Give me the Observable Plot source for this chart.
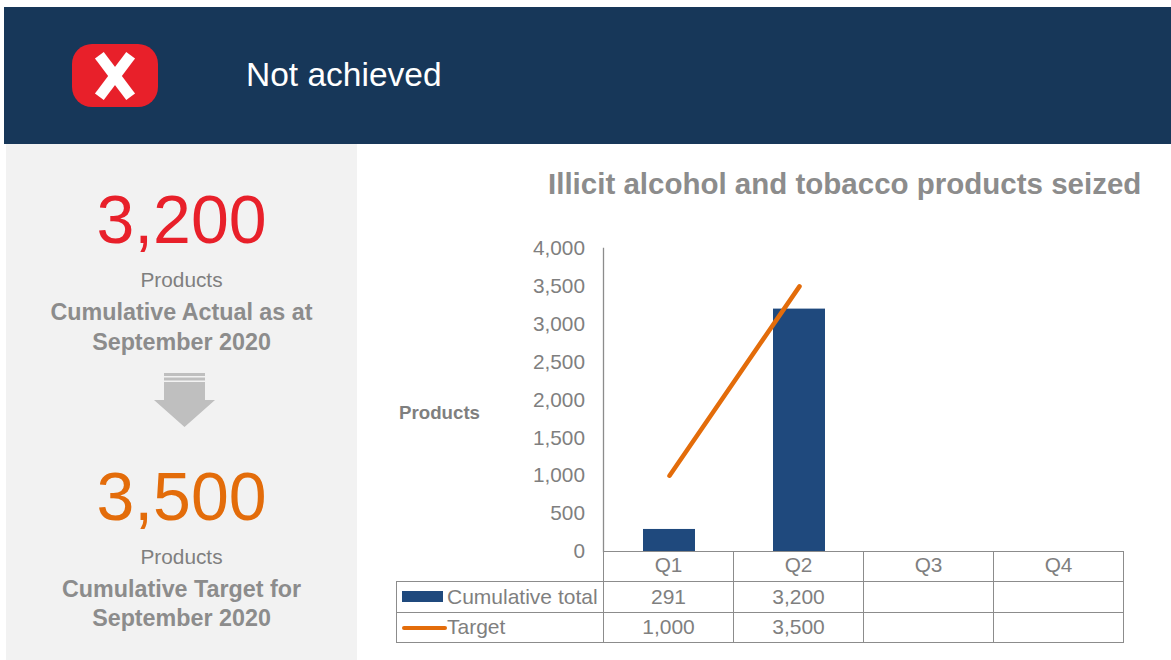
<!DOCTYPE html>
<html><head><meta charset="utf-8">
<script src="https://cdn.jsdelivr.net/npm/d3@7"></script>
<script src="https://cdn.jsdelivr.net/npm/@observablehq/plot@0.6"></script>
<style>
html,body{margin:0;padding:0;background:#fff;overflow:hidden}
body{width:1171px;height:660px;position:relative;font-family:"Liberation Sans",Arial,sans-serif}
.abs{position:absolute}
.c{text-align:center;width:351px;left:6px}
#tbl{position:absolute;left:396px;top:551px;border-collapse:collapse;table-layout:fixed;width:727px;color:#7f7f7f;font-size:21px}
#tbl td{border:1px solid #8c8c8c;padding:0;text-align:center;height:30px;box-sizing:border-box;white-space:nowrap}
#tbl tr:nth-child(2) td{height:31px}
#tbl tr:nth-child(3) td{padding-bottom:2px}
#tbl tr:first-child td:first-child{border:0 none;border-bottom:1px solid #8c8c8c}
#tbl td.lab{text-align:left;position:relative;padding-left:50px}
.key{position:absolute;left:5px}
</style></head><body>
<div class="abs" style="left:4px;top:7px;width:1167px;height:137px;background:#173759"></div>
<svg class="abs" style="left:72px;top:44px" width="86" height="63" viewBox="0 0 86 63">
<rect width="86" height="63" rx="20" fill="#e8202a"/>
<g transform="translate(43 32)" fill="#fff"><rect x="-5.500" y="-26" width="11" height="52" transform="rotate(-37)"/><rect x="-5.500" y="-26" width="11" height="52" transform="rotate(37)"/></g>
</svg>
<div class="abs" id="status" style="left:246px;top:55px;color:#fff;font-size:33.500px;line-height:40px"></div>
<div class="abs" style="left:6px;top:144px;width:351px;height:516px;background:#f2f2f2"></div>
<div class="abs c" id="actual" style="top:181px;font-size:68px;line-height:76px;color:#e8202a"></div>
<div class="abs c" id="unit1" style="top:268px;font-size:20.800px;line-height:24px;color:#7f7f7f"></div>
<div class="abs c" id="cap1" style="top:298px;font-size:23.300px;line-height:29.500px;font-weight:bold;color:#8c8c8c"></div>
<svg class="abs" style="left:154px;top:373px" width="61" height="54" viewBox="0 0 61 54">
<path d="M10 0H51V3H10ZM10 4.500H51V7.500H10ZM10 9H51V27H61L30.500 54L0 27H10Z" fill="#bfbfbf"/>
</svg>
<div class="abs c" id="target" style="top:458px;font-size:68px;line-height:76px;color:#e36c0a"></div>
<div class="abs c" id="unit2" style="top:545px;font-size:20.800px;line-height:24px;color:#7f7f7f"></div>
<div class="abs c" id="cap2" style="top:574.500px;font-size:23.300px;line-height:29.500px;font-weight:bold;color:#8c8c8c"></div>
<div class="abs" id="title" style="left:548px;top:166px;font-size:29.500px;line-height:36px;font-weight:bold;color:#8c8c8c;white-space:nowrap"></div>
<div class="abs" id="ylabel" style="left:399px;top:402px;font-size:18.700px;line-height:22px;font-weight:bold;color:#7f7f7f"></div>
<table id="tbl"><colgroup><col style="width:207px"><col style="width:130px"><col style="width:130px"><col style="width:130px"><col style="width:130px"></colgroup><tbody></tbody></table>
<div id="chart" class="abs" style="left:0;top:0"></div>
<script>
const statusText = "Not achieved";
const chartTitle = "Illicit alcohol and tobacco products seized";
const yLabel = "Products";
const unit = "Products";
const actualValue = 3200;
const targetValue = 3500;
const actualCaption = ["Cumulative Actual as at", "September 2020"];
const targetCaption = ["Cumulative Target for", "September 2020"];
const quarters = ["Q1", "Q2", "Q3", "Q4"];
const cumulativeTotal = [291, 3200, null, null];
const target = [1000, 3500, null, null];
const seriesNames = ["Cumulative total", "Target"];
const yTicks = [0, 500, 1000, 1500, 2000, 2500, 3000, 3500, 4000];

const fmt = d3.format(",");
const set = (id, v) => document.getElementById(id).textContent = v;
set("status", statusText); set("title", chartTitle); set("ylabel", yLabel);
set("actual", fmt(actualValue)); set("target", fmt(targetValue));
set("unit1", unit); set("unit2", unit);
document.getElementById("cap1").innerHTML = actualCaption.join("<br>");
document.getElementById("cap2").innerHTML = targetCaption.join("<br>");

const barData = quarters.map((q, i) => ({q, v: cumulativeTotal[i]})).filter(d => d.v != null);
const lineData = quarters.map((q, i) => ({q, v: target[i]})).filter(d => d.v != null);

const plot = Plot.plot({
  width: 1171, height: 660,
  marginLeft: 603, marginRight: 48, marginTop: 248, marginBottom: 109,
  style: {background: "transparent", fontFamily: '"Liberation Sans",Arial,sans-serif', overflow: "visible"},
  x: {domain: quarters, paddingInner: 0.6, paddingOuter: 0.3, align: 0.513, label: null},
  y: {domain: [0, 4000], label: null},
  marks: [
    Plot.barY(barData, {x: "q", y: "v", fill: "#1f497d"}),
    Plot.line(lineData, {x: "q", y: "v", stroke: "#e36c0a", strokeWidth: 4.5, strokeLinecap: "round"}),
    Plot.frame({anchor: "left", stroke: "#8c8c8c", strokeWidth: 1.3}),
    Plot.axisY({ticks: yTicks, tickSize: 0, tickPadding: 18.5, tickFormat: fmt, fontSize: 20.8, color: "#7f7f7f", label: null}),
    Plot.axisX({tickSize: 0, tickPadding: 6, dx: -1, fontSize: 20.8, color: "#7f7f7f", label: null})
  ]
});
document.getElementById("chart").append(plot);

const tb = document.querySelector("#tbl tbody");
const cell = v => v == null ? "" : fmt(v);
const keys = ['<svg class="key" style="top:9px" width="42" height="12"><rect width="41" height="11" fill="#1f497d"/></svg>',
              '<svg class="key" style="top:11px" width="46" height="8"><line x1="2" x2="43" y1="4" y2="4" stroke="#e36c0a" stroke-width="4" stroke-linecap="round"/></svg>'];
const rows = [
  `<tr><td></td>${quarters.map(() => "<td></td>").join("")}</tr>`,
  ...[cumulativeTotal, target].map((vals, i) =>
    `<tr><td class="lab">${keys[i]}${seriesNames[i]}</td>${vals.map(v => `<td>${cell(v)}</td>`).join("")}</tr>`)
];
tb.innerHTML = rows.join("");
</script>
</body></html>
